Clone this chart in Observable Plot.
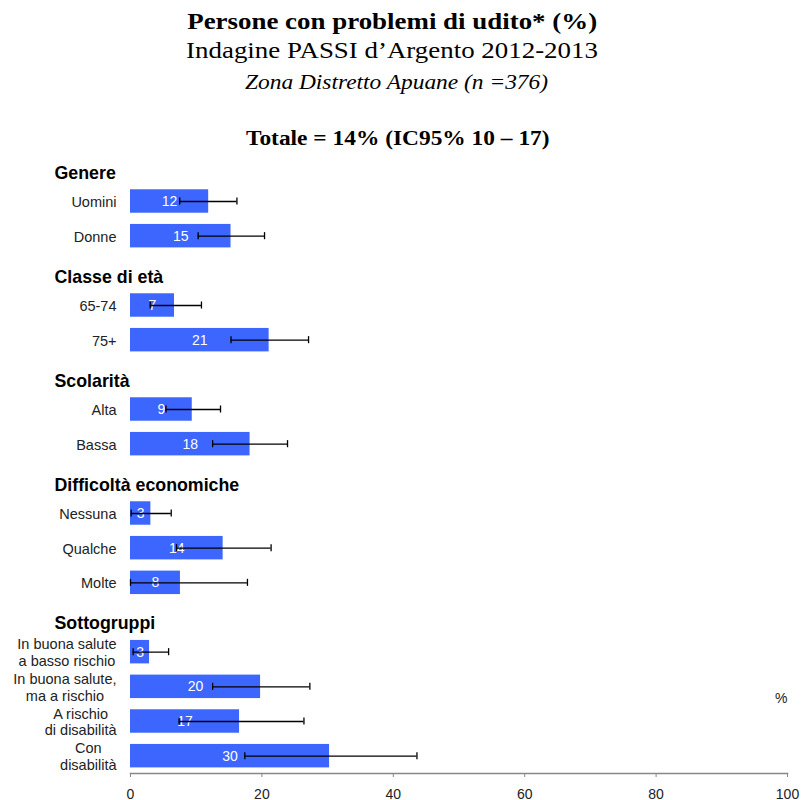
<!DOCTYPE html>
<html>
<head>
<meta charset="utf-8">
<script src="https://cdn.jsdelivr.net/npm/d3@7"></script>
<script src="https://cdn.jsdelivr.net/npm/@observablehq/plot@0.6"></script>
<style>
  html, body { margin: 0; padding: 0; background: #fff; }
  body { width: 801px; position: relative; overflow: hidden; }
  #head { position: relative; height: 145px; }
  .hl { position: absolute; left: 0; text-align: center; line-height: 1; white-space: nowrap; color: #000; font-family: "Liberation Serif", "Times New Roman", serif; }
  .hl span { display: inline-block; transform: scaleX(1.17); transform-origin: center; }
  #chart svg { display: block; }
  #pct { position: absolute; left: 775px; top: 690px; font: 14px "Liberation Sans", Arial, sans-serif; color: #222; }
</style>
</head>
<body>
<div id="head">
  <div class="hl" style="top:10px;width:785px;font-size:23px;font-weight:bold;"><span>Persone con problemi di udito* (%)</span></div>
  <div class="hl" style="top:38.5px;width:784px;font-size:23px;"><span>Indagine PASSI d’Argento 2012-2013</span></div>
  <div class="hl" style="top:71.5px;width:794px;font-size:20px;font-style:italic;"><span>Zona Distretto Apuane (n =376)</span></div>
  <div class="hl" style="top:128px;width:796px;font-size:20px;font-weight:bold;"><span>Totale = 14% (IC95% 10 – 17)</span></div>
</div>
<div id="chart"></div>
<div id="pct">%</div>
<script>
// ---- data ----
const groups = ["Genere", "Classe di età", "Scolarità", "Difficoltà economiche", "Sottogruppi"];
const categories = ["Uomini", "Donne", "65-74", "75+", "Alta", "Bassa", "Nessuna", "Qualche", "Molte",
  "In buona salute\na basso rischio", "In buona salute,\nma a rischio", "A rischio\ndi disabilità", "Con\ndisabilità"];
const categoryGroup = ["Genere", "Genere", "Classe di età", "Classe di età", "Scolarità", "Scolarità",
  "Difficoltà economiche", "Difficoltà economiche", "Difficoltà economiche",
  "Sottogruppi", "Sottogruppi", "Sottogruppi", "Sottogruppi"];
const values = [11.9, 15.3, 6.7, 21.1, 9.4, 18.2, 3.1, 14.1, 7.6, 2.9, 19.8, 16.6, 30.3];
const valueLabels = [12, 15, 7, 21, 9, 18, 3, 14, 8, 3, 20, 17, 30];
const ciLow = [7.5, 10.3, 3.0, 15.3, 5.4, 12.5, 0.1, 7.0, 0.0, 0.4, 12.5, 7.4, 17.4];
const ciHigh = [16.2, 20.4, 10.8, 27.1, 13.7, 23.9, 6.2, 21.4, 17.8, 5.8, 27.3, 26.4, 43.6];
const xTicks = [0, 20, 40, 60, 80, 100];

// ---- table ----
const rows = categories.map((c, i) => ({
  cat: c, group: categoryGroup[i], value: values[i], label: valueLabels[i], lo: ciLow[i], hi: ciHigh[i]
}));
const domain = [];
groups.forEach(g => {
  domain.push(g);
  rows.filter(r => r.group === g).forEach(r => domain.push(r.cat));
});
const headers = groups.map(g => ({key: g}));

const barColor = "#3d66ff";
const chart = Plot.plot({
  width: 801,
  height: 680,
  marginLeft: 130,
  marginRight: 14,
  marginTop: 4,
  marginBottom: 52,
  style: {fontFamily: "'Liberation Sans', Arial, sans-serif", fontSize: "14px", color: "#222", background: "#fff"},
  x: {domain: [0, 100]},
  y: {domain, padding: 0, round: false},
  marks: [
    Plot.barX(rows, {x: "value", y: "cat", fill: barColor, insetTop: 5.6, insetBottom: 5.6}),
    Plot.text(rows, {x: d => d.value / 2, y: "cat", text: d => String(d.label), fill: "#fff", fontSize: 14}),
    Plot.ruleY(rows, {x1: "lo", x2: "hi", y: "cat", stroke: "#000", strokeWidth: 1.3}),
    Plot.tickX(rows, {x: "lo", y: "cat", stroke: "#000", strokeWidth: 1.3, insetTop: 13.8, insetBottom: 13.8}),
    Plot.tickX(rows, {x: "hi", y: "cat", stroke: "#000", strokeWidth: 1.3, insetTop: 13.8, insetBottom: 13.8}),
    Plot.text(headers, {y: "key", text: "key", frameAnchor: "left", textAnchor: "start", dx: -76, dy: 6,
      fontWeight: "bold", fontSize: 17.8, fill: "#000"}),
    Plot.axisY({tickSize: 0, tickPadding: 14, fontSize: 14.5, lineHeight: 1.15,
      tickFormat: d => groups.includes(d) ? "" : d, label: null}),
    Plot.frame({anchor: "bottom", stroke: "#888", strokeWidth: 1.6}),
    Plot.axisX({ticks: xTicks, tickSize: 4, tickPadding: 12, stroke: "#888", fontSize: 14, label: null})
  ]
});
document.getElementById("chart").append(chart);

// center multi-line y labels as blocks ending at the tick-label anchor
chart.querySelectorAll('g[aria-label="y-axis tick label"] text').forEach(t => {
  const spans = t.querySelectorAll("tspan");
  if (spans.length < 2) return;
  const w = Math.max(...[...spans].map(s => s.getComputedTextLength()));
  spans.forEach(s => { s.setAttribute("x", -w / 2); s.setAttribute("text-anchor", "middle"); });
});
</script>
</body>
</html>
